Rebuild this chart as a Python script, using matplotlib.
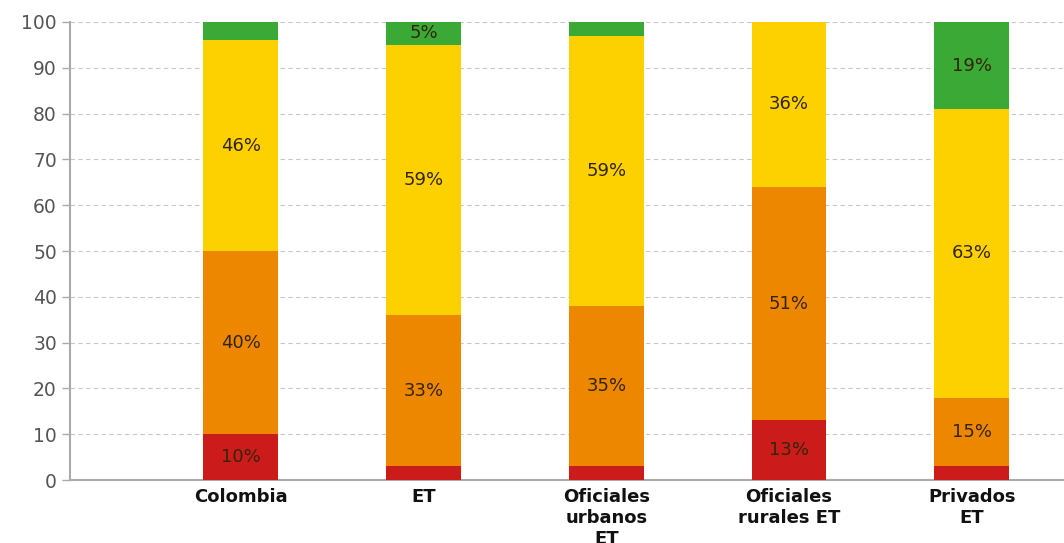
import matplotlib
matplotlib.use("Agg")
import matplotlib.pyplot as plt
import numpy as np

categories = ["Colombia", "ET", "Oficiales\nurbanos\nET", "Oficiales\nrurales ET", "Privados\nET"]
red = [10, 3, 3, 13, 3]
orange = [40, 33, 35, 51, 15]
yellow = [46, 59, 59, 36, 63]
green = [4, 5, 3, 0, 19]

series = [red, orange, yellow, green]
colors = ["#CC1B1B", "#EE8700", "#FDD000", "#3AA935"]

fig = plt.figure(figsize=(10.64, 5.43), dpi=100)
ax = fig.add_axes([0.0658, 0.116, 0.9342, 0.8435])

x = np.arange(len(categories))
bottom = np.zeros(len(categories))
for vals, col in zip(series, colors):
    vals = np.array(vals, dtype=float)
    ax.bar(x, vals, bottom=bottom, width=0.41, color=col, zorder=3)
    for xi, b, v in zip(x, bottom, vals):
        if v >= 5:
            ax.text(xi, b + v / 2, f"{int(v)}%", ha="center", va="center",
                    fontsize=13, color="#33250c", zorder=4)
    bottom += vals

ax.set_xlim(-0.935, 4.505)
ax.set_ylim(0, 100)
ax.set_yticks(range(0, 101, 10))
ax.set_xticks(x)
ax.set_xticklabels(categories, fontsize=13, fontweight="bold", color="#111111",
                   linespacing=1.2)
ax.tick_params(axis="x", length=0, pad=6)
ax.tick_params(axis="y", labelsize=13.5, labelcolor="#555555", length=6, color="#aaaaaa", width=1)
ax.grid(axis="y", linestyle=(0, (4, 3)), color="#c8c8c8", linewidth=0.8, zorder=0)
for s in ["top", "right"]:
    ax.spines[s].set_visible(False)
for s in ["left", "bottom"]:
    ax.spines[s].set_color("#aaaaaa")
    ax.spines[s].set_linewidth(1.5)

fig.savefig("out.png", dpi=100)
